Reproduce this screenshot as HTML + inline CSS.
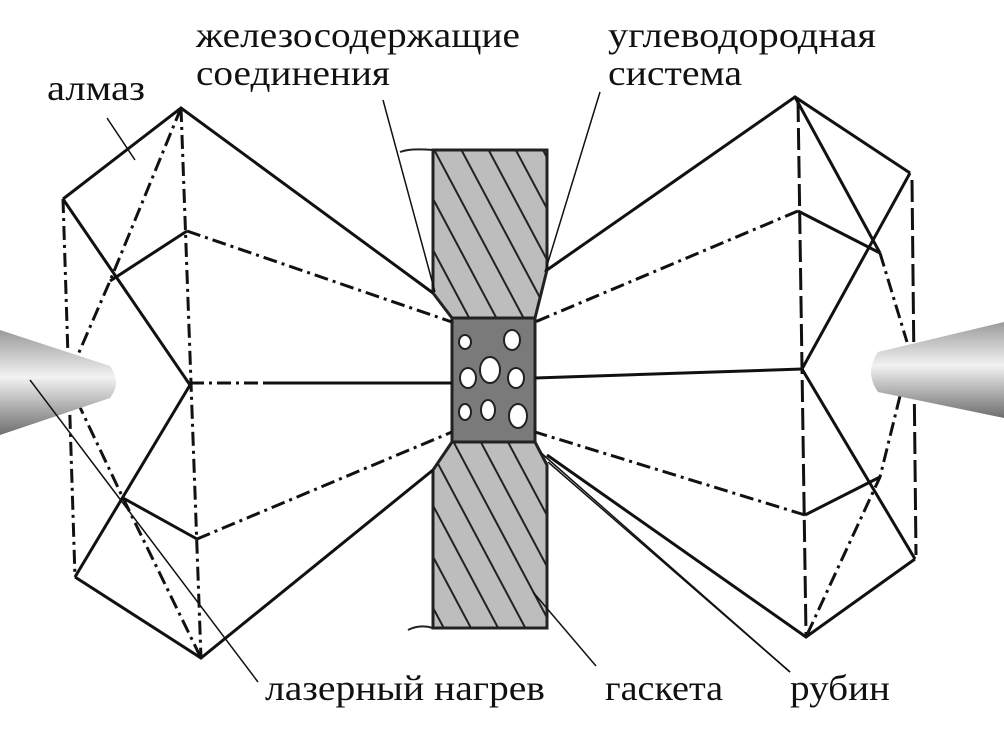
<!DOCTYPE html>
<html><head><meta charset="utf-8"><style>
html,body{margin:0;padding:0;background:#fff;}
svg{display:block;}
text{font-family:"Liberation Serif",serif;font-size:36px;fill:#111;}
</style></head><body>
<svg width="1004" height="734" viewBox="0 0 1004 734" xmlns="http://www.w3.org/2000/svg">
<defs>
<linearGradient id="cone" x1="0" y1="0" x2="0" y2="1">
<stop offset="0" stop-color="#9a9a9a"/><stop offset="0.45" stop-color="#f2f2f2"/><stop offset="1" stop-color="#6e6e6e"/>
</linearGradient>
<pattern id="hatch" patternUnits="userSpaceOnUse" width="24" height="24" patternTransform="rotate(-28)">
<rect width="24" height="24" fill="#bdbdbd"/><line x1="0" y1="0" x2="0" y2="24" stroke="#222" stroke-width="4"/>
</pattern>
</defs>

<!-- gasket -->
<path d="M433 150 L547 150 L547 270 L535 318 L535 442 L547 465 L547 628 L433 628 L433 470 L452 442 L452 318 L433 293 Z" fill="url(#hatch)" stroke="#222" stroke-width="3"/>
<path d="M400 152 Q410 148 433 150" fill="none" stroke="#222" stroke-width="2"/>
<path d="M408 630 Q420 624 433 628" fill="none" stroke="#222" stroke-width="2"/>
<rect x="452" y="318" width="83" height="124" fill="#7a7a7a" stroke="#222" stroke-width="3"/>
<g fill="#fff" stroke="#222" stroke-width="2">
<ellipse cx="465" cy="342" rx="6" ry="7"/><ellipse cx="512" cy="340" rx="8" ry="10"/>
<ellipse cx="468" cy="378" rx="8" ry="10"/><ellipse cx="490" cy="370" rx="10" ry="13"/><ellipse cx="516" cy="378" rx="8" ry="10"/>
<ellipse cx="465" cy="412" rx="6" ry="8"/><ellipse cx="488" cy="410" rx="7" ry="10"/><ellipse cx="518" cy="416" rx="9" ry="12"/>
</g>

<g fill="none" stroke="#111" stroke-width="3">
<polyline points="63,199 181,108 433,293"/>
<polyline points="75,577 201,658 433,470"/>
<line x1="63" y1="199" x2="190" y2="385"/>
<line x1="190" y1="385" x2="75" y2="577"/>
<line x1="263" y1="383" x2="452" y2="383"/>
<polyline points="110,281 187,231"/>
<polyline points="123,498 197,539"/>
<polyline points="910,173 795,97 547,270"/>
<polyline points="915,559 806,637 547,455"/>
<line x1="795" y1="97" x2="880" y2="253"/>
<line x1="910" y1="173" x2="802" y2="369"/>
<line x1="802" y1="369" x2="915" y2="559"/>
<line x1="880" y1="253" x2="798" y2="211"/>
<line x1="880" y1="477" x2="805" y2="515"/>
<line x1="535" y1="378" x2="802" y2="369"/>
</g>
<g fill="none" stroke="#111" stroke-width="3" stroke-dasharray="22,6">
<line x1="798" y1="100" x2="806" y2="635"/>
<line x1="912" y1="180" x2="916" y2="555"/>
</g>
<g fill="none" stroke="#111" stroke-width="3" stroke-dasharray="14,5,3,5">
<polyline points="181,108 110,281 77,357"/>
<polyline points="77,401 123,498 201,658"/>
<line x1="181" y1="108" x2="201" y2="658"/>
<line x1="63" y1="199" x2="75" y2="577"/>
<line x1="190" y1="383" x2="258" y2="383"/>
<polyline points="187,231 452,322"/>
<polyline points="197,539 452,432"/>
<polyline points="880,253 907,342"/>
<polyline points="900,396 880,477 806,637"/>
<polyline points="798,211 535,322"/>
<polyline points="805,515 535,432"/>
</g>

<path d="M0 330 L110 366 Q122 383 110 398 L0 435 Z" fill="url(#cone)"/>
<path d="M1004 322 L878 352 Q864 372 878 392 L1004 418 Z" fill="url(#cone)"/>

<g stroke="#111" stroke-width="1.5" fill="none">
<line x1="107" y1="118" x2="135" y2="160"/>
<line x1="383" y1="100" x2="435" y2="292"/>
<line x1="600" y1="92" x2="545" y2="272"/>
<line x1="30" y1="380" x2="258" y2="682"/>
<line x1="533" y1="592" x2="596" y2="666"/>
<line x1="540" y1="452" x2="790" y2="672"/>
<line x1="548" y1="462" x2="790" y2="672"/>
</g>

<text x="47" y="100" textLength="98" lengthAdjust="spacingAndGlyphs">алмаз</text>
<text x="196" y="47" textLength="324" lengthAdjust="spacingAndGlyphs">железосодержащие</text>
<text x="196" y="85" textLength="194" lengthAdjust="spacingAndGlyphs">соединения</text>
<text x="608" y="47" textLength="268" lengthAdjust="spacingAndGlyphs">углеводородная</text>
<text x="608" y="85" textLength="134" lengthAdjust="spacingAndGlyphs">система</text>
<text x="265" y="700" textLength="280" lengthAdjust="spacingAndGlyphs">лазерный нагрев</text>
<text x="605" y="700" textLength="118" lengthAdjust="spacingAndGlyphs">гаскета</text>
<text x="790" y="700" textLength="100" lengthAdjust="spacingAndGlyphs">рубин</text>
</svg>
</body></html>
